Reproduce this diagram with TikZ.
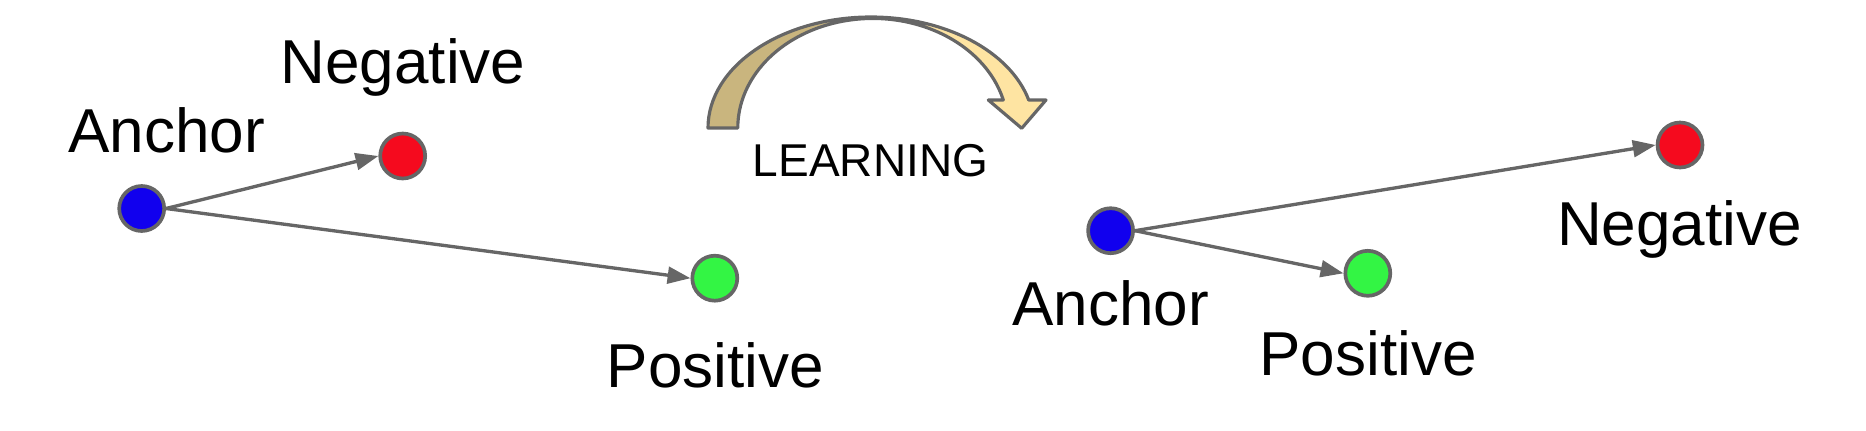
\documentclass[tikz,border=0pt]{standalone}
\usepackage{fontspec}
\setmainfont{Liberation Sans}
\usepackage{tikz}
\usetikzlibrary{arrows.meta}

\definecolor{dotblue}{RGB}{17,0,238}
\definecolor{dotred}{RGB}{245,10,30}
\definecolor{dotgreen}{RGB}{51,245,68}
\definecolor{edgegray}{RGB}{102,102,102}
\definecolor{tandark}{RGB}{201,181,126}
\definecolor{tanlight}{RGB}{254,228,162}

\tikzset{
    ball/.style={circle, draw=edgegray, line width=2.1pt, minimum size=25.6pt, inner sep=0pt},
    tovec/.style={draw=edgegray, line width=1.9pt, -{Triangle[length=13pt,width=9.5pt]}},
    lbl/.style={anchor=base, inner sep=0pt, font=\fontsize{35.3}{40}\selectfont}
}

\begin{document}
\begin{tikzpicture}[x=0.02cm, y=-0.02cm]
    \useasboundingbox (0,0) rectangle (1866,430);

    % Draw the points before learning
    \node[ball, fill=dotblue] (a1) at (141.7,208.5) {};
    \node[ball, fill=dotred] (n1) at (402.7,156) {};
    \node[ball, fill=dotgreen] (p1) at (714.8,278.2) {};
    \draw[tovec] (a1.east) -- (n1.west);
    \draw[tovec] (a1.east) -- (p1.west);

    % Label the points before learning
    \node[lbl] (a1lbl) at (166.5,152) {Anchor};
    \node[lbl] (n1lbl) at (403,83) {Negative};
    \node[lbl] (p1lbl) at (715.5,387) {Positive};

    % Draw the curved arrow
    \draw[edgegray, line width=1.8pt, line join=round, fill=tanlight,
          path picture={\fill[tandark] (600,0) rectangle (871,200);}]
        (708,128) arc[start angle=180, end angle=345.4, x radius=163, y radius=111]
        -- (1046,100) -- (1021.7,128.3) -- (988.3,100) -- (1003.3,100)
        arc[start angle=345.2, end angle=180, x radius=135, y radius=109.5] -- cycle;
    \node[anchor=base, inner sep=0pt, font=\fontsize{26.2}{30}\selectfont] (learn) at (870.5,176.7) {LEARNING};

    % Draw the points after learning
    \node[ball, fill=dotblue] (a2) at (1110.6,230.7) {};
    \node[ball, fill=dotred] (n2) at (1680,145) {};
    \node[ball, fill=dotgreen] (p2) at (1367.8,273.3) {};
    \draw[tovec] (a2.east) -- (n2.west);
    \draw[tovec] (a2.east) -- (p2.west);

    % Label the points after learning
    \node[lbl] (a2lbl) at (1110.5,325) {Anchor};
    \node[lbl] (n2lbl) at (1679.5,245) {Negative};
    \node[lbl] (p2lbl) at (1368,375) {Positive};

\end{tikzpicture}
\end{document}
